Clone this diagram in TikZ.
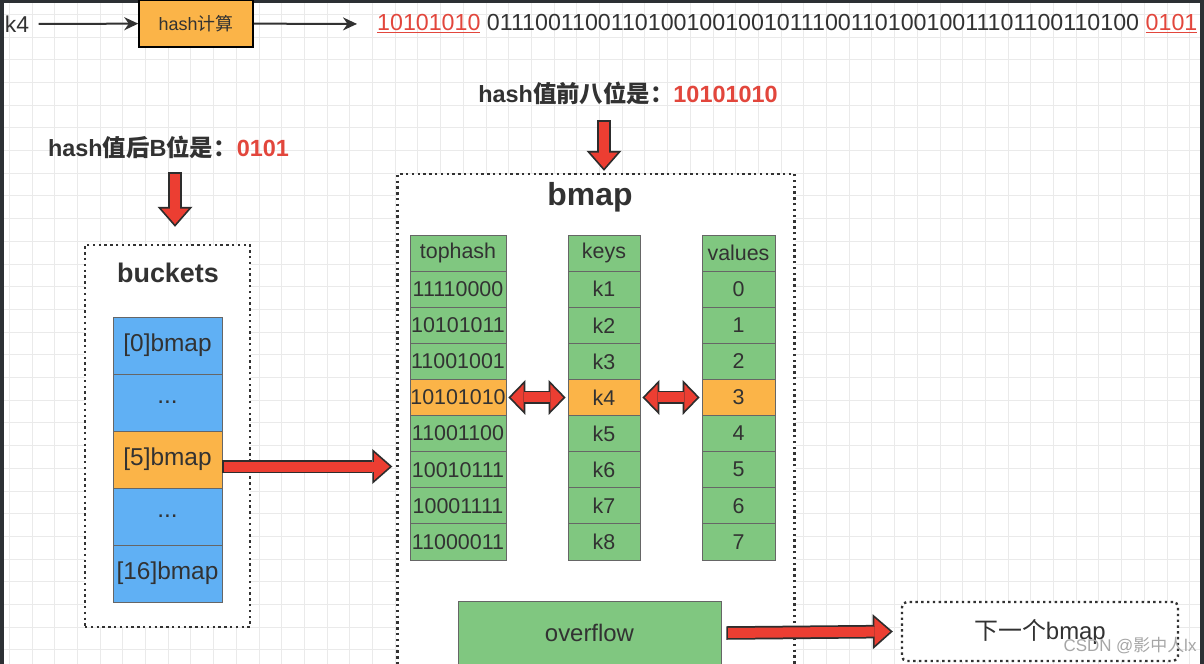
\documentclass[tikz,border=0pt]{standalone}
\usepackage{fontspec}
\setmainfont{Liberation Sans}
\newfontfamily\cjk{Noto Sans CJK SC}
\usetikzlibrary{arrows.meta,calc}

\definecolor{inkgray}{RGB}{50,50,50}
\definecolor{hashred}{RGB}{226,70,60}
\definecolor{fatred}{RGB}{236,62,50}
\definecolor{fatedge}{RGB}{45,45,45}
\definecolor{cellorange}{RGB}{251,180,72}
\definecolor{cellgreen}{RGB}{128,199,128}
\definecolor{cellblue}{RGB}{96,176,244}
\definecolor{gridgray}{RGB}{234,234,234}
\definecolor{framedark}{RGB}{44,48,52}

\tikzset{
  cell/.style={draw=black!60,line width=0.8bp,minimum height=36.1bp,inner sep=0pt,font=\fontsize{21.5}{24}\selectfont},
  slot/.style={draw=black!60,line width=0.8bp,minimum width=109bp,minimum height=57bp,inner sep=0pt,font=\fontsize{24.5}{28}\selectfont},
  dotbox/.style={draw=inkgray,fill=white,line width=2.4bp,dash pattern=on 2.4bp off 3.4bp,inner sep=0pt},
  title/.style={font=\fontsize{#1}{#1}\selectfont\bfseries},
  pointer/.style={draw=inkgray,line width=2bp,-{Stealth[length=14bp,width=13bp]}},
  fat/.style={preaction={draw=fatedge,line width=13.5bp,shorten <=0bp,shorten >=0bp,-{Triangle[length=20bp,width=35bp,line width=0pt]}},
    draw=fatred,line width=10bp,shorten <=1.75bp,shorten >=2.66bp,-{Triangle[length=15.6bp,width=27.3bp,line width=0pt]}},
  fatboth/.style={preaction={draw=fatedge,line width=13.5bp,shorten <=0bp,shorten >=0bp,{Triangle[length=17bp,width=35bp,line width=0pt]}-{Triangle[length=17bp,width=35bp,line width=0pt]}},
    draw=fatred,line width=10bp,shorten <=2.47bp,shorten >=2.47bp,{Triangle[length=12.8bp,width=26.4bp,line width=0pt]}-{Triangle[length=12.8bp,width=26.4bp,line width=0pt]}}
}

\begin{document}
\begin{tikzpicture}[every node/.style={text=inkgray}]

\useasboundingbox (0,0) rectangle (1204bp,-664bp);
\fill [framedark] (0,0) rectangle (1204bp,-664bp);
\fill [white] (4bp,-3bp) rectangle (1200bp,-664bp);
\draw [gridgray,line width=0.9bp,shift={(32bp,-37bp)}] (-28bp,34bp) grid[step=22.7bp] (1168bp,-627bp);

% top row: key -> hash -> bits
\node (k4) at (17bp,-24bp)[font=\fontsize{23}{26}\selectfont] {k4};
\node (hash) at (196bp,-23.5bp)[draw=black,line width=1.5bp,fill=cellorange,minimum width=114bp,minimum height=47bp,font=\fontsize{18}{21}\selectfont] {hash{\cjk 计算}};
\node (bits) at (377bp,-24bp)[anchor=west,inner sep=0pt,font=\fontsize{23.3}{26}\selectfont] {\textcolor{hashred}{\underline{10101010}} 0111001100110100100100101110011010010011101100110100 \textcolor{hashred}{\underline{0101}}};
\draw [pointer,shorten <=6bp] (k4) -- (hash);
\draw [pointer,shorten >=20bp] (hash) -- (bits.west);

\node (top8) at (628bp,-93bp)[title=23.5] {hash{\cjk 值前八位是：}\textcolor{hashred}{10101010}};
\node (low4) at (168.5bp,-147bp)[title=23.5] {hash{\cjk 值后}B{\cjk 位是：}\textcolor{hashred}{0101}};

% buckets
\node (buckets) at (167.5bp,-436bp)[dotbox,minimum width=165bp,minimum height=382bp] {};
\node (bucketstitle) at (168bp,-273bp)[title=27] {buckets};
\foreach \lbl/\tint [count=\i from 0] in {{[0]bmap}/cellblue,{...}/cellblue,{[5]bmap}/cellorange,{...}/cellblue,{[16]bmap}/cellblue}
  \node (b\i) at (167.5bp,{-345.5bp-57bp*\i})[slot,fill=\tint] {\lbl};

% bmap
\node (bmapbox) at (596bp,-432bp)[dotbox,minimum width=397bp,minimum height=516bp] {};
\node (bmaptitle) at (590bp,-197bp)[title=32] {bmap};
\foreach \th/\ky/\vl/\tint [count=\i from 0] in {tophash/keys/values/cellgreen,11110000/k1/0/cellgreen,10101011/k2/1/cellgreen,11001001/k3/2/cellgreen,10101010/k4/3/cellorange,11001100/k5/4/cellgreen,10010111/k6/5/cellgreen,10001111/k7/6/cellgreen,11000011/k8/7/cellgreen}
{
  \node (th\i) at (458bp,{-253.05bp-36.1bp*\i})[cell,fill=\tint,minimum width=96bp] {\th};
  \node (ky\i) at (604bp,{-253.05bp-36.1bp*\i})[cell,fill=\tint,minimum width=72bp] {\ky};
  \node (vl\i) at (738.5bp,{-253.05bp-36.1bp*\i})[cell,fill=\tint,minimum width=73bp] {\vl};
}
\node (overflow) at (589.5bp,-633bp)[draw=black!60,line width=0.8bp,fill=cellgreen,minimum width=263bp,minimum height=64bp,font=\fontsize{24}{27}\selectfont] {overflow};
\node (next) at (1040bp,-631.5bp)[dotbox,rounded corners=5bp,minimum width=276bp,minimum height=59bp,font=\fontsize{24}{27}\selectfont] {{\cjk 下一个}bmap};

% block arrows
\draw [fat] ($(top8.center -| ky4)+(0,-27bp)$) -- ($(bmapbox.north -| ky4)+(0,2bp)$);
\draw [fat] ($(low4.center)+(6.5bp,-25bp)$) -- ($(buckets.north)+(7.5bp,17bp)$);
\draw [fat] ([yshift=-7bp]b2.east) -- ($(b2.east -| bmapbox.west)+(-4bp,-7bp)$);
\draw [fatboth] ($(th4.east)+(2bp,0)$) -- ($(ky4.west)+(-2bp,0)$);
\draw [fatboth] ($(ky4.east)+(2bp,0)$) -- ($(vl4.west)+(-2bp,0)$);
\draw [fat] ($(overflow.east)+(5bp,0)$) -- ($(next.west)+(-8bp,0)$);

\node (mark) at (1130bp,-646bp)[text=black!35,font=\fontsize{17}{20}\selectfont] {CSDN @{\cjk 影中人}lx};
\end{tikzpicture}
\end{document}
